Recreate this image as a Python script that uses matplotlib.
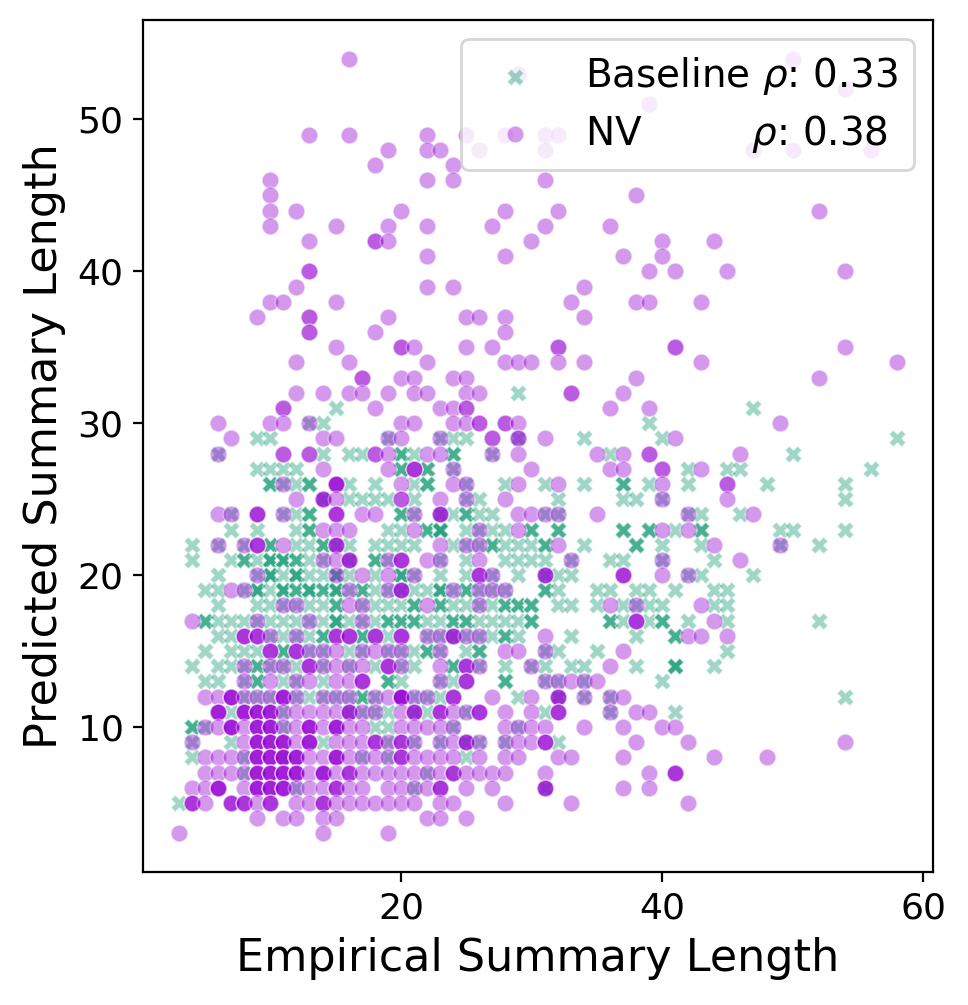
import matplotlib
matplotlib.use("Agg")
import matplotlib.pyplot as plt

# occupied positions (x = empirical length, y = predicted length)
baseline_xy = [
(15,31),(29,32),(47,31),
(13,30),(14,30),(39,30),
(9,29),(10,29),(19,29),(23,29),(24,29),(25,29),(29,29),(34,29),(40,29),(58,29),
(6,28),(14,28),(16,28),(17,28),(20,28),(21,28),(24,28),(27,28),(36,28),(50,28),
(9,27),(10,27),(11,27),(12,27),(20,27),(22,27),(24,27),(42,27),(45,27),(46,27),(56,27),
(10,26),(11,26),(12,26),(13,26),(16,26),(18,26),(21,26),(22,26),(25,26),(28,26),(31,26),(34,26),(37,26),(39,26),(42,26),(48,26),(54,26),
(14,25),(16,25),(17,25),(18,25),(19,25),(21,25),(25,25),(26,25),(32,25),(37,25),(38,25),(40,25),(54,25),
(7,24),(11,24),(12,24),(13,24),(20,24),(21,24),(23,24),(24,24),(25,24),(26,24),(27,24),(31,24),(32,24),(42,24),(43,24),(46,24),
(7,23),(9,23),(12,23),(13,23),(19,23),(20,23),(22,23),(23,23),(25,23),(26,23),(27,23),(28,23),(30,23),(32,23),(37,23),(39,23),(41,23),(43,23),(49,23),(50,23),(54,23),
(4,22),(6,22),(8,22),(10,22),(12,22),(13,22),(14,22),(15,22),(16,22),(18,22),(19,22),(20,22),(21,22),(24,22),(25,22),(26,22),(27,22),(28,22),(29,22),(30,22),(31,22),(34,22),(38,22),(40,22),(43,22),(49,22),(52,22),
(4,21),(7,21),(8,21),(9,21),(10,21),(11,21),(12,21),(13,21),(14,21),(16,21),(18,21),(19,21),(23,21),(25,21),(28,21),(29,21),(30,21),(31,21),(33,21),(36,21),(37,21),(40,21),(44,21),
(6,20),(9,20),(10,20),(11,20),(12,20),(13,20),(14,20),(15,20),(16,20),(18,20),(20,20),(21,20),(23,20),(25,20),(27,20),(29,20),(31,20),(32,20),(33,20),(42,20),(43,20),(47,20),
(5,19),(6,19),(8,19),(9,19),(10,19),(11,19),(12,19),(13,19),(14,19),(15,19),(16,19),(17,19),(18,19),(19,19),(20,19),(21,19),(22,19),(23,19),(24,19),(25,19),(26,19),(27,19),(28,19),(31,19),(32,19),(35,19),(36,19),(38,19),(39,19),(41,19),(44,19),(45,19),
(6,18),(9,18),(10,18),(11,18),(12,18),(13,18),(14,18),(15,18),(17,18),(18,18),(19,18),(20,18),(21,18),(23,18),(24,18),(25,18),(26,18),(27,18),(28,18),(29,18),(30,18),(32,18),(33,18),(35,18),(37,18),(38,18),(39,18),(40,18),(44,18),(45,18),
(5,17),(6,17),(7,17),(8,17),(9,17),(10,17),(11,17),(12,17),(13,17),(14,17),(15,17),(16,17),(17,17),(18,17),(19,17),(20,17),(21,17),(22,17),(23,17),(24,17),(25,17),(26,17),(27,17),(28,17),(29,17),(30,17),(36,17),(37,17),(39,17),(40,17),(42,17),(45,17),(52,17),
(6,16),(7,16),(10,16),(11,16),(12,16),(13,16),(14,16),(17,16),(19,16),(22,16),(23,16),(24,16),(25,16),(26,16),(27,16),(28,16),(29,16),(33,16),(38,16),(41,16),
(5,15),(7,15),(8,15),(9,15),(11,15),(13,15),(14,15),(16,15),(17,15),(19,15),(20,15),(21,15),(22,15),(23,15),(25,15),(26,15),(31,15),(32,15),(35,15),(45,15),
(4,14),(6,14),(7,14),(8,14),(9,14),(10,14),(11,14),(12,14),(14,14),(16,14),(18,14),(20,14),(21,14),(24,14),(26,14),(28,14),(30,14),(31,14),(33,14),(34,14),(38,14),(41,14),(44,14),
(5,13),(6,13),(8,13),(9,13),(11,13),(12,13),(14,13),(19,13),(20,13),(23,13),(24,13),(28,13),(31,13),(32,13),(34,13),(40,13),
(8,12),(9,12),(10,12),(12,12),(13,12),(14,12),(15,12),(16,12),(17,12),(18,12),(21,12),(22,12),(23,12),(29,12),(32,12),(34,12),(36,12),(54,12),
(7,11),(11,11),(16,11),(17,11),(18,11),(19,11),(21,11),(22,11),(25,11),(31,11),(36,11),(41,11),
(4,10),(5,10),(11,10),(18,10),(19,10),(24,10),(29,10),
(4,9),(7,9),(14,9),(19,9),(21,9),(23,9),(25,9),(26,9),(28,9),(32,9),
(4,8),(8,8),(11,8),(17,8),(19,8),(25,8),
(8,7),(22,7),
(12,6),(21,6),(31,6),
(3,5),
]
# positions where several baseline points coincide: (x, y, count)
baseline_stacked = [
(20,28,3),(24,28,3),(20,27,3),(22,27,3),(10,26,3),(13,26,3),(22,26,3),(37,26,3),
(13,24,3),(20,24,3),(25,24,3),(13,23,3),(22,23,3),(23,23,5),(30,23,3),(32,23,3),
(37,23,3),(39,23,3),(43,23,3),(10,22,3),(14,22,3),(27,22,3),(31,22,3),(38,22,3),
(8,21,3),(10,21,4),(11,21,4),(12,21,3),(18,21,3),(10,20,4),(12,20,4),(15,20,3),(20,20,4),
(9,19,4),(11,19,4),(12,19,3),(13,19,4),(14,19,3),(15,19,4),(17,19,3),(23,19,4),(25,19,3),(31,19,3),
(15,18,3),(21,18,3),(23,18,3),(28,18,3),(29,18,3),(30,18,3),
(5,17,3),(15,17,4),(19,17,3),(20,17,3),(21,17,3),(24,17,3),(25,17,3),(30,17,3),(36,17,3),(40,17,3),
(14,16,3),(17,16,3),(28,16,3),(41,16,3),(11,15,3),(22,15,3),(26,15,3),
(9,14,3),(24,14,3),(41,14,4),(9,13,3),(19,13,3),(28,13,3),(17,12,3),(4,10,3),
]

nv_xy = [
(16,54),(50,54),(29,53),(54,52),(39,51),
(13,49),(16,49),(22,49),(25,49),(28,49),(31,49),(32,49),
(19,48),(22,48),(23,48),(26,48),(31,48),(47,48),(50,48),(56,48),
(18,47),(24,47),
(10,46),(22,46),(24,46),(31,46),
(10,45),(38,45),
(10,44),(12,44),(20,44),(28,44),(32,44),(52,44),
(10,43),(15,43),(19,43),(22,43),(27,43),(31,43),(36,43),
(13,42),(18,42),(19,42),(30,42),(40,42),(44,42),
(22,41),(28,41),(37,41),(40,41),
(13,40),(39,40),(41,40),(45,40),(54,40),
(12,39),(22,39),(24,39),(34,39),
(10,38),(11,38),(15,38),(33,38),(38,38),(39,38),(43,38),
(9,37),(13,37),(19,37),(25,37),(26,37),(28,37),(34,37),
(13,36),(18,36),(28,36),
(15,35),(20,35),(21,35),(25,35),(27,35),(32,35),(41,35),(54,35),
(12,34),(16,34),(22,34),(28,34),(29,34),(30,34),(32,34),(34,34),(43,34),(58,34),
(17,33),(20,33),(21,33),(24,33),(25,33),(38,33),(52,33),
(12,32),(14,32),(16,32),(17,32),(19,32),(21,32),(22,32),(25,32),(26,32),(33,32),(37,32),
(11,31),(18,31),(23,31),(24,31),(25,31),(36,31),(39,31),
(6,30),(10,30),(11,30),(13,30),(20,30),(21,30),(24,30),(25,30),(26,30),(28,30),(29,30),(49,30),
(7,29),(14,29),(15,29),(19,29),(20,29),(23,29),(27,29),(29,29),(31,29),(41,29),
(6,28),(11,28),(13,28),(18,28),(19,28),(22,28),(23,28),(27,28),(29,28),(35,28),(37,28),(39,28),(46,28),
(14,27),(19,27),(21,27),(24,27),(30,27),(36,27),(37,27),(40,27),(43,27),
(11,26),(15,26),(20,26),(24,26),(25,26),(29,26),(32,26),(40,26),(45,26),
(12,25),(14,25),(15,25),(20,25),(23,25),(25,25),(28,25),(40,25),(45,25),
(6,24),(7,24),(9,24),(11,24),(15,24),(17,24),(18,24),(21,24),(23,24),(29,24),(30,24),(31,24),(32,24),(35,24),(42,24),(47,24),
(14,23),(15,23),(16,23),(21,23),(26,23),(29,23),(40,23),(42,23),
(6,22),(8,22),(9,22),(11,22),(15,22),(23,22),(25,22),(26,22),(32,22),(44,22),(49,22),
(14,21),(15,21),(16,21),(19,21),(20,21),(22,21),(23,21),(26,21),(33,21),(40,21),(46,21),
(9,20),(15,20),(17,20),(19,20),(21,20),(26,20),(27,20),(31,20),(37,20),(40,20),(42,20),
(7,19),(8,19),(16,19),(19,19),(20,19),(24,19),(26,19),(27,19),(28,19),
(11,18),(12,18),(16,18),(17,18),(22,18),(26,18),(36,18),(38,18),(43,18),
(4,17),(9,17),(13,17),(17,17),(38,17),(44,17),
(8,16),(9,16),(10,16),(12,16),(15,16),(16,16),(18,16),(20,16),(22,16),(23,16),(24,16),(25,16),(26,16),(31,16),(42,16),(43,16),(45,16),
(10,15),(12,15),(13,15),(14,15),(15,15),(17,15),(18,15),(19,15),(20,15),(23,15),(28,15),(29,15),(31,15),(37,15),
(8,14),(10,14),(11,14),(13,14),(14,14),(15,14),(16,14),(17,14),(19,14),(20,14),(23,14),(25,14),(26,14),(30,14),(36,14),
(8,13),(10,13),(12,13),(13,13),(15,13),(16,13),(17,13),(23,13),(25,13),(31,13),(32,13),(33,13),(34,13),(35,13),
(5,12),(6,12),(7,12),(8,12),(9,12),(10,12),(11,12),(12,12),(14,12),(15,12),(16,12),(18,12),(19,12),(20,12),(21,12),(22,12),(24,12),(27,12),(30,12),(32,12),(34,12),(36,12),(37,12),
(6,11),(8,11),(9,11),(10,11),(11,11),(12,11),(13,11),(14,11),(15,11),(16,11),(17,11),(18,11),(20,11),(21,11),(23,11),(24,11),(25,11),(26,11),(28,11),(30,11),(32,11),(36,11),(38,11),(39,11),
(5,10),(6,10),(7,10),(8,10),(9,10),(10,10),(11,10),(12,10),(13,10),(14,10),(15,10),(16,10),(17,10),(20,10),(21,10),(22,10),(23,10),(24,10),(28,10),(29,10),(30,10),(31,10),(34,10),(37,10),(40,10),(41,10),
(4,9),(8,9),(9,9),(10,9),(11,9),(12,9),(13,9),(15,9),(16,9),(17,9),(18,9),(19,9),(20,9),(21,9),(23,9),(24,9),(25,9),(26,9),(28,9),(29,9),(30,9),(31,9),(38,9),(42,9),(54,9),
(5,8),(6,8),(7,8),(8,8),(9,8),(10,8),(11,8),(12,8),(13,8),(14,8),(15,8),(16,8),(17,8),(18,8),(19,8),(20,8),(21,8),(22,8),(23,8),(24,8),(26,8),(28,8),(29,8),(32,8),(33,8),(37,8),(44,8),(48,8),
(5,7),(6,7),(7,7),(8,7),(9,7),(10,7),(11,7),(12,7),(13,7),(14,7),(15,7),(16,7),(17,7),(18,7),(19,7),(20,7),(21,7),(22,7),(23,7),(24,7),(25,7),(26,7),(27,7),(28,7),(31,7),(39,7),(41,7),
(4,6),(5,6),(6,6),(8,6),(9,6),(10,6),(11,6),(12,6),(13,6),(14,6),(15,6),(16,6),(17,6),(19,6),(20,6),(21,6),(22,6),(23,6),(25,6),(27,6),(31,6),(37,6),(39,6),
(4,5),(5,5),(7,5),(8,5),(9,5),(10,5),(12,5),(13,5),(14,5),(15,5),(16,5),(17,5),(18,5),(19,5),(20,5),(21,5),(23,5),(24,5),(28,5),(33,5),(42,5),
(9,4),(11,4),(12,4),(14,4),(15,4),(22,4),(23,4),(25,4),
(3,3),(14,3),(19,3),
]
# positions where several NV points coincide: (x, y, count)
nv_stacked = [
(18,42,2),(13,40,2),(13,37,2),(13,36,2),(20,35,2),(32,35,2),(41,35,2),(17,33,2),(33,32,2),
(11,31,2),(25,31,2),(26,30,2),(28,30,2),(27,29,2),(29,29,2),(11,28,2),(13,28,2),(18,28,2),(39,28,2),
(21,27,3),(40,27,2),(45,26,2),(15,26,4),(14,25,3),(20,25,2),(9,24,3),(15,24,3),(23,24,3),(9,22,3),(15,22,3),
(16,21,3),(20,21,3),(26,20,3),(31,20,3),(37,20,3),(20,19,3),(38,17,3),
(8,16,3),(9,16,3),(15,16,3),(16,16,3),(18,16,3),(20,16,3),(24,16,3),(10,15,3),(12,15,3),
(13,14,3),(19,14,3),(25,14,3),(17,13,3),(25,13,3),
(7,12,4),(11,12,4),(20,12,5),(24,12,3),(32,12,3),
(6,11,4),(8,11,4),(9,11,4),(10,11,4),(16,11,3),(21,11,3),(23,11,3),(26,11,3),(32,11,3),
(7,10,4),(9,10,4),(10,10,4),(13,10,4),(15,10,4),
(9,9,4),(10,9,4),(11,9,4),(13,9,4),(18,9,3),(20,9,3),(25,9,3),(31,9,3),
(9,8,4),(10,8,4),(11,8,4),(12,8,4),(15,8,4),(20,8,3),
(9,7,4),(10,7,4),(11,7,4),(12,7,4),(14,7,4),(16,7,3),(24,7,3),(41,7,3),
(6,6,4),(9,6,4),(10,6,4),(11,6,4),(15,6,3),(23,6,3),(31,6,3),
(4,5,3),(7,5,3),(8,5,3),(10,5,3),(14,5,3),
]

series_labels = ["Baseline $\\rho$: 0.33", "NV         $\\rho$: 0.38"]
x_label = "Empirical Summary Length"
y_label = "Predicted Summary Length"


def expand(points, stacked):
    counts = {(x, y): n for x, y, n in stacked}
    seen = set()
    xs, ys = [], []
    for x, y in points:
        if (x, y) in seen:
            continue
        seen.add((x, y))
        for _ in range(counts.get((x, y), 1)):
            xs.append(x)
            ys.append(y)
    return xs, ys


bx, by = expand(baseline_xy, baseline_stacked)
nx, ny = expand(nv_xy, nv_stacked)

fig = plt.figure(figsize=(4.84, 5.025), dpi=200)
ax = fig.add_axes([143/968, 1 - 872/1005, (933 - 143)/968, (872 - 20)/1005])

lw = 0.08 * 6
ax.scatter(bx, by, s=36, marker="X", color="#1b9e77", alpha=0.42,
           edgecolors="white", linewidths=lw, label=series_labels[0])
ax.scatter(nx, ny, s=36, marker="o", color="#9400d3", alpha=0.4,
           edgecolors="white", linewidths=lw, label=series_labels[1])

ax.set_xlabel(x_label, fontsize=16)
ax.set_ylabel(y_label, fontsize=16)
ax.tick_params(labelsize=13)
ax.set_xticks([20, 40, 60])
ax.set_yticks([10, 20, 30, 40, 50])
ax.legend(loc="upper right", fontsize=14, labelspacing=0.4)

fig.savefig("out.png", dpi=200)
